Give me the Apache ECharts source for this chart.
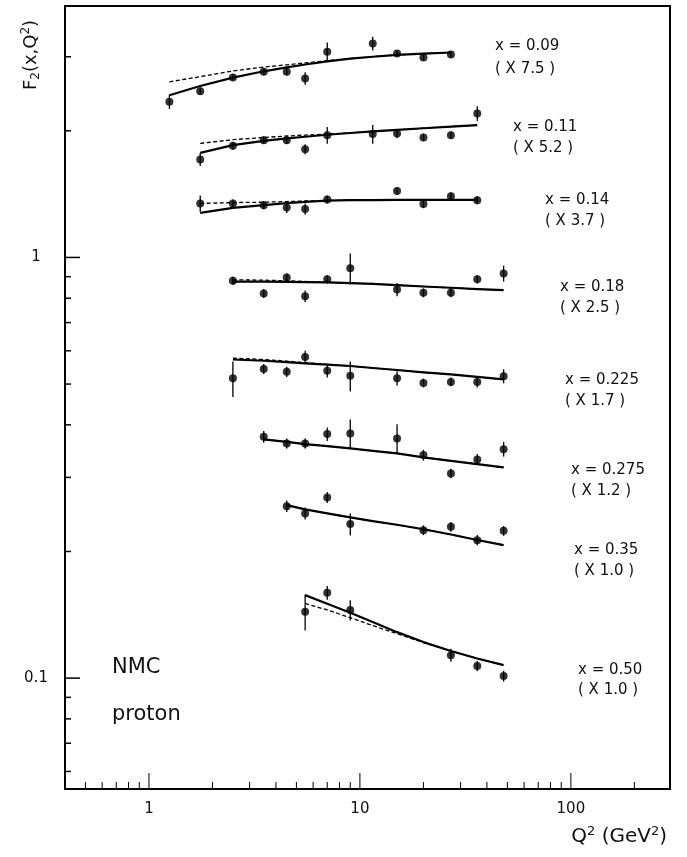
<!DOCTYPE html>
<html>
<head>
<meta charset="utf-8">
<script src="https://cdn.jsdelivr.net/npm/echarts/dist/echarts.min.js"></script>
<style>html,body{margin:0;padding:0;background:#fff}#c{width:687px;height:857px}</style>
</head>
<body>
<div id="c"></div>
<script>
// ---------------- DATA ----------------
// x = 0.09 (x 7.5)
const q2_009 = [1.25, 1.75, 2.5, 3.5, 4.5, 5.5, 7, 11.5, 15, 20, 27];
const f2_009 = [2.344, 2.485, 2.679, 2.762, 2.762, 2.664, 3.081, 3.226, 3.054, 2.988, 3.038];
const err_009 = [0.09, 0.05, 0.05, 0.05, 0.05, 0.09, 0.16, 0.12, 0.05, 0.05, 0.05];
const fitQ2_009 = [1.25, 1.75, 2.5, 3.5, 4.5, 5.5, 7, 9, 11.5, 15, 20, 27];
const solid_009 = [2.43, 2.555, 2.675, 2.77, 2.83, 2.875, 2.925, 2.97, 3.0, 3.03, 3.05, 3.07];
const dashed_009 = [2.615, 2.69, 2.775, 2.835, 2.87, 2.9, 2.935, 2.97, 3.0, 3.03, 3.05, 3.07];

// x = 0.11 (x 5.2)
const q2_011 = [1.75, 2.5, 3.5, 4.5, 5.5, 7, 11.5, 15, 20, 27, 36];
const f2_011 = [1.710, 1.842, 1.900, 1.900, 1.809, 1.953, 1.964, 1.971, 1.929, 1.953, 2.199];
const err_011 = [0.06, 0.04, 0.04, 0.04, 0.05, 0.09, 0.10, 0.05, 0.04, 0.04, 0.09];
const fitQ2_011 = [1.75, 2.5, 3.5, 4.5, 5.5, 7, 9, 11.5, 15, 20, 27, 36];
const solid_011 = [1.773, 1.849, 1.893, 1.918, 1.936, 1.957, 1.976, 1.993, 2.01, 2.028, 2.046, 2.063];
const dashed_011 = [1.866, 1.905, 1.928, 1.944, 1.954, 1.964, 1.978, 1.993, 2.01, 2.028, 2.046, 2.063];

// x = 0.14 (x 3.7)
const q2_014 = [1.75, 2.5, 3.5, 4.5, 5.5, 7, 15, 20, 27, 36];
const f2_014 = [1.344, 1.344, 1.331, 1.315, 1.303, 1.374, 1.439, 1.339, 1.398, 1.368];
const err_014 = [0.06, 0.03, 0.03, 0.04, 0.04, 0.03, 0.03, 0.03, 0.03, 0.03];
const fitQ2_014 = [1.75, 2.5, 3.5, 4.5, 5.5, 7, 9, 11.5, 15, 20, 27, 36];
const solid_014 = [1.276, 1.312, 1.332, 1.346, 1.356, 1.364, 1.368, 1.369, 1.370, 1.370, 1.370, 1.370];
const dashed_014 = [1.344, 1.350, 1.353, 1.358, 1.362, 1.366, 1.368, 1.369, 1.370, 1.370, 1.370, 1.370];

// x = 0.18 (x 2.5)
const q2_018 = [2.5, 3.5, 4.5, 5.5, 7, 9, 15, 20, 27, 36, 48];
const f2_018 = [0.880, 0.821, 0.896, 0.809, 0.887, 0.942, 0.839, 0.824, 0.824, 0.887, 0.916];
const err_018 = [0.02, 0.02, 0.02, 0.025, 0.02, 0.08, 0.03, 0.02, 0.02, 0.02, 0.04];
const fitQ2_018 = [2.5, 3.5, 4.5, 5.5, 7, 9, 11.5, 15, 20, 27, 36, 48];
const solid_018 = [0.876, 0.876, 0.875, 0.874, 0.872, 0.869, 0.865, 0.859, 0.853, 0.847, 0.841, 0.836];
const dashed_018 = [0.885, 0.883, 0.880, 0.877, 0.873, 0.869, 0.865, 0.859, 0.853, 0.847, 0.841, 0.836];

// x = 0.225 (x 1.7)
const q2_0225 = [2.5, 3.5, 4.5, 5.5, 7, 9, 15, 20, 27, 36, 48];
const f2_0225 = [0.516, 0.543, 0.535, 0.580, 0.538, 0.523, 0.516, 0.503, 0.506, 0.506, 0.522];
const err_0225 = [0.05, 0.015, 0.015, 0.02, 0.02, 0.043, 0.02, 0.012, 0.012, 0.015, 0.02];
const fitQ2_0225 = [2.5, 3.5, 4.5, 5.5, 7, 9, 11.5, 15, 20, 27, 36, 48];
const solid_0225 = [0.572, 0.568, 0.564, 0.560, 0.556, 0.552, 0.546, 0.540, 0.533, 0.527, 0.520, 0.513];
const dashed_0225 = [0.576, 0.572, 0.567, 0.562, 0.557, 0.552, 0.546, 0.540, 0.533, 0.527, 0.520, 0.513];

// x = 0.275 (x 1.2)
const q2_0275 = [3.5, 4.5, 5.5, 7, 9, 15, 20, 27, 36, 48];
const f2_0275 = [0.3747, 0.3613, 0.3613, 0.3802, 0.3817, 0.3713, 0.3389, 0.3066, 0.3310, 0.3502];
const err_0275 = [0.012, 0.01, 0.01, 0.014, 0.03, 0.03, 0.01, 0.008, 0.01, 0.014];
const fitQ2_0275 = [3.5, 4.5, 5.5, 7, 9, 11.5, 15, 20, 27, 36, 48];
const solid_0275 = [0.3693, 0.3645, 0.3599, 0.3560, 0.3516, 0.3470, 0.3421, 0.3347, 0.3285, 0.3226, 0.3168];
const dashed_0275 = [0.3693, 0.3645, 0.3599, 0.3560, 0.3516, 0.3470, 0.3421, 0.3347, 0.3285, 0.3226, 0.3168];

// x = 0.35 (x 1.0)
const q2_035 = [4.5, 5.5, 7, 9, 20, 27, 36, 48];
const f2_035 = [0.2563, 0.2463, 0.2689, 0.2323, 0.2247, 0.2289, 0.2128, 0.2239];
const err_035 = [0.008, 0.008, 0.008, 0.014, 0.006, 0.006, 0.006, 0.006];
const fitQ2_035 = [4.5, 5.5, 7, 9, 11.5, 15, 20, 27, 36, 48];
const solid_035 = [0.2577, 0.2518, 0.2463, 0.2410, 0.2361, 0.2315, 0.2259, 0.2195, 0.2130, 0.2070];
const dashed_035 = [0.2577, 0.2518, 0.2463, 0.2410, 0.2361, 0.2315, 0.2259, 0.2195, 0.2130, 0.2070];

// x = 0.50 (x 1.0)
const q2_050 = [5.5, 7, 9, 27, 36, 48];
const f2_050 = [0.1438, 0.1595, 0.1451, 0.1134, 0.1068, 0.1011];
const err_050 = [0.014, 0.006, 0.008, 0.004, 0.003, 0.003];
const fitQ2_050 = [5.5, 7, 9, 11.5, 15, 20, 27, 36, 48];
const solid_050 = [0.1575, 0.1503, 0.1430, 0.1360, 0.1286, 0.1218, 0.1160, 0.1113, 0.1074];
const dashed_050 = [0.1505, 0.1452, 0.1392, 0.1333, 0.1275, 0.1215, 0.1160, 0.1113, 0.1074];

const binLabels = ['x = 0.09', 'x = 0.11', 'x = 0.14', 'x = 0.18', 'x = 0.225', 'x = 0.275', 'x = 0.35', 'x = 0.50'];
const scaleLabels = ['( X 7.5 )', '( X 5.2 )', '( X 3.7 )', '( X 2.5 )', '( X 1.7 )', '( X 1.2 )', '( X 1.0 )', '( X 1.0 )'];

const xTickLabels = ['1', '10', '100'];
const yTickLabels = ['0.1', '1'];
const xMajorTicks = [1, 10, 100];
const xMinorTicks = [0.5, 0.6, 0.7, 0.8, 0.9, 2, 3, 4, 5, 6, 7, 8, 9, 20, 30, 40, 50, 60, 70, 80, 90, 200];
const yMajorTicks = [0.1, 1];
const yMinorTicks = [0.06, 0.07, 0.08, 0.09, 0.2, 0.3, 0.4, 0.5, 0.6, 0.7, 0.8, 0.9, 2, 3];

const yAxisNameParts = ['F', '2', '(x,Q', '2', ')'];
const xAxisNameParts = ['Q', '2', ' (GeV', '2', ')'];
const expLabel = 'NMC';
const targetLabel = 'proton';

// ---------------- LAYOUT ----------------
const X_MIN = 0.4, X_MAX = 295, Y_MIN = 0.0545, Y_MAX = 3.96;
const labelPos = [[495, 46, 69], [513, 127, 148], [545, 200, 221], [560, 287, 308],
                  [565, 380, 401], [571, 470, 491], [574, 550, 571], [578, 670, 690]];
const FONT = 'DejaVu Sans';

const groups = [
  [q2_009, f2_009, err_009, fitQ2_009, solid_009, dashed_009],
  [q2_011, f2_011, err_011, fitQ2_011, solid_011, dashed_011],
  [q2_014, f2_014, err_014, fitQ2_014, solid_014, dashed_014],
  [q2_018, f2_018, err_018, fitQ2_018, solid_018, dashed_018],
  [q2_0225, f2_0225, err_0225, fitQ2_0225, solid_0225, dashed_0225],
  [q2_0275, f2_0275, err_0275, fitQ2_0275, solid_0275, dashed_0275],
  [q2_035, f2_035, err_035, fitQ2_035, solid_035, dashed_035],
  [q2_050, f2_050, err_050, fitQ2_050, solid_050, dashed_050]
];

const series = [];
groups.forEach(([q, f, e, fq, s, d]) => {
  series.push({
    type: 'line', data: fq.map((v, i) => [v, d[i]]), symbol: 'none', smooth: false, z: 2, silent: true,
    lineStyle: { color: '#000', width: 1.3, type: [4, 2.5], join: 'round' }
  });
  series.push({
    type: 'line', data: fq.map((v, i) => [v, s[i]]), symbol: 'none', smooth: false, z: 3, silent: true,
    lineStyle: { color: '#000', width: 2.2, join: 'round' }
  });
  series.push({
    type: 'custom', z: 4, silent: true,
    data: q.map((v, i) => [v, f[i] - e[i], f[i] + e[i]]),
    renderItem: (p, api) => {
      const a = api.coord([api.value(0), api.value(1)]);
      const b = api.coord([api.value(0), api.value(2)]);
      return { type: 'line', shape: { x1: a[0], y1: a[1], x2: b[0], y2: b[1] }, style: { stroke: '#000', lineWidth: 1.3 } };
    }
  });
  series.push({
    type: 'scatter', data: q.map((v, i) => [v, f[i]]), symbol: 'circle', symbolSize: 8, z: 5, silent: true,
    itemStyle: { color: '#000' }
  });
});

function tickSeries(data, isX, len) {
  return {
    type: 'custom', z: 6, silent: true, clip: false,
    data: data.map(v => isX ? [v, Y_MIN] : [X_MIN, v]),
    renderItem: (p, api) => {
      const pt = api.coord([api.value(0), api.value(1)]);
      const shape = isX ? { x1: pt[0], y1: pt[1], x2: pt[0], y2: pt[1] - len }
                        : { x1: pt[0], y1: pt[1], x2: pt[0] + len, y2: pt[1] };
      return { type: 'line', shape, style: { stroke: '#000', lineWidth: isX ? 1 : 1.5 } };
    }
  };
}
series.push(tickSeries(xMajorTicks, true, 16));
series.push(tickSeries(xMinorTicks, true, 7));
series.push(tickSeries(yMajorTicks, false, 15));
series.push(tickSeries(yMinorTicks, false, 6));

function labelFormatter(labels) {
  return v => {
    const i = labels.findIndex(t => Math.abs(Math.log10(v) - Math.log10(Number(t))) < 1e-6);
    return i >= 0 ? labels[i] : '';
  };
}

const graphics = [];
binLabels.forEach((t, i) => {
  const [x, y1, y2] = labelPos[i];
  graphics.push({ type: 'text', x: x, y: y1, style: { text: t, font: '15px "' + FONT + '"', fill: '#111', align: 'left', verticalAlign: 'middle' } });
  graphics.push({ type: 'text', x: x, y: y2, style: { text: scaleLabels[i], font: '15px "' + FONT + '"', fill: '#111', align: 'left', verticalAlign: 'middle' } });
});
graphics.push({ type: 'text', x: 112, y: 668, style: { text: expLabel, font: '21px "' + FONT + '"', fill: '#111', align: 'left', verticalAlign: 'middle' } });
graphics.push({ type: 'text', x: 112, y: 715, style: { text: targetLabel, font: '21px "' + FONT + '"', fill: '#111', align: 'left', verticalAlign: 'middle' } });

const partStyles = ['m', 'sb', 'm', 'sp', 'm'];
function richText(parts, styles) {
  return parts.map((p, i) => '{' + styles[i] + '|' + p + '}').join('');
}
graphics.push({
  type: 'text', x: 31, y: 55, rotation: Math.PI / 2,
  style: {
    text: richText(yAxisNameParts, partStyles),
    align: 'center', verticalAlign: 'middle',
    rich: {
      m: { fontFamily: FONT, fontSize: 18, lineHeight: 22, fill: '#111' },
      sb: { fontFamily: FONT, fontSize: 12, lineHeight: 12, verticalAlign: 'bottom', fill: '#111' },
      sp: { fontFamily: FONT, fontSize: 12, lineHeight: 12, verticalAlign: 'top', fill: '#111' }
    }
  }
});
graphics.push({
  type: 'text', x: 667, y: 837,
  style: {
    text: richText(xAxisNameParts, ['m', 'sp', 'm', 'sp', 'm']),
    align: 'right', verticalAlign: 'middle',
    rich: {
      m: { fontFamily: FONT, fontSize: 20, lineHeight: 24, fill: '#111' },
      sp: { fontFamily: FONT, fontSize: 13, lineHeight: 13, verticalAlign: 'top', fill: '#111' }
    }
  }
});

const chart = echarts.init(document.getElementById('c'), null, { renderer: 'canvas' });
chart.setOption({
  backgroundColor: '#fff',
  animation: false,
  grid: { left: 65, right: 17, top: 6, bottom: 68, show: true, borderColor: '#000', borderWidth: 2, backgroundColor: 'transparent' },
  xAxis: {
    type: 'log', logBase: 10, min: X_MIN, max: X_MAX,
    axisLine: { show: false }, axisTick: { show: false }, splitLine: { show: false }, minorTick: { show: false },
    axisLabel: { margin: 13, fontFamily: FONT, fontSize: 15, color: '#111', formatter: labelFormatter(xTickLabels), showMinLabel: false, showMaxLabel: false }
  },
  yAxis: {
    type: 'log', logBase: 10, min: Y_MIN, max: Y_MAX,
    axisLine: { show: false }, axisTick: { show: false }, splitLine: { show: false }, minorTick: { show: false },
    axisLabel: { margin: 29, align: 'center', fontFamily: FONT, fontSize: 15, color: '#111', formatter: labelFormatter(yTickLabels), showMinLabel: false, showMaxLabel: false }
  },
  graphic: graphics,
  series: series
});
</script>
</body>
</html>
